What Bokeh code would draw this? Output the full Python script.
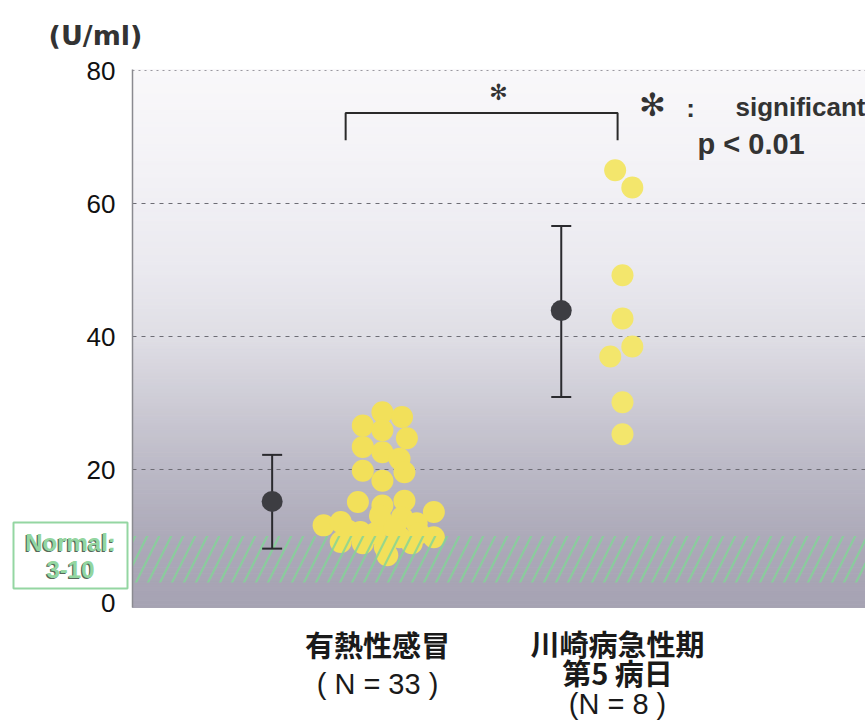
import numpy as np
from bokeh.plotting import figure
from bokeh.models import Range1d, FixedTicker, Label
from bokeh.embed import file_html
from bokeh.resources import INLINE

# ---------------- data ----------------
unit_label = "(U/ml)"
group_lines = [["有熱性感冒", "( N = 33 )"], ["川崎病急性期", "第5 病日", "(N = 8 )"]]
fever_values = [28.6, 27.9, 26.6, 25.9, 24.7, 23.4, 22.6, 21.6, 19.8, 19.6, 18.3,
                15.1, 14.6, 15.3, 13.6, 11.6, 12.1, 10.6, 12.1, 12.8, 11.9, 9.8,
                9.1, 8.9, 8.3, 7.1, 8.9, 9.8, 10.4, 13.1, 10.4, 10.8, 11.1]
fever_jitter = [0.02, 0.10, -0.06, 0.02, 0.12, -0.06, 0.02, 0.09, -0.06, 0.11, 0.02,
                -0.08, 0.02, 0.11, 0.23, -0.22, -0.15, -0.07, 0.02, 0.10, 0.16, 0.23,
                -0.15, -0.06, 0.03, 0.04, 0.14, 0.09, -0.01, 0.01, 0.17, -0.12, 0.07]
kawasaki_values = [65.0, 62.4, 49.2, 42.7, 38.5, 37.0, 30.1, 25.3]
kawasaki_jitter = [-0.03, 0.04, 0.0, 0.0, 0.04, -0.05, 0.0, 0.0]
means = [15.2, 43.9]
upper = [22.2, 56.6]
lower = [8.1, 30.9]
y_ticks = [0, 20, 40, 60, 80]
normal_range = [3, 10]
normal_text = "Normal:\n3-10"
sig_text = "significant"
p_text = "p < 0.01"

# ---------------- layout ----------------
W, H = 865, 724
PX0, PY0 = 132, 602          # canvas px of data (0, 0)
SX, SY = 245.0, 6.65         # px per data unit
PA_X0, PA_X1 = 0.0, (W - PX0) / SX     # plot-area extent (data)
PA_Y0, PA_Y1 = -0.75, 80.15
cat_pos = [1.0, 2.0]
mean_shift = [-0.43, -0.25]

def px_x(px):
    return (px - PX0) / SX

def px_y(py):
    return (PY0 - py) / SY

p = figure(width=W, height=H, output_backend="svg", toolbar_location=None,
           x_range=Range1d(px_x(0), px_x(W)), y_range=Range1d(px_y(H), px_y(0)),
           x_axis_location=None, y_axis_location="left",
           min_border_left=0, min_border_top=0, min_border_right=0, min_border_bottom=0)
p.outline_line_color = None
p.grid.visible = False
p.background_fill_color = "white"
p.border_fill_color = "white"

# gradient background of the plot area
stops_v = [PA_Y0, 10, 20, 30, 40, 50, 65, PA_Y1]
stops_c = ["#a6a3b3", "#adaab9", "#bbb9c6", "#cdcbd5", "#dfdee5", "#eae9ef", "#f3f2f6", "#f9f8fa"]
def hex2rgb(h):
    return np.array([int(h[i:i + 2], 16) for i in (1, 3, 5)], float)
rgbs = np.array([hex2rgb(c) for c in stops_c])
edges = np.linspace(PA_Y0, PA_Y1, 161)
mids = (edges[:-1] + edges[1:]) / 2
cols = []
for m in mids:
    c = [np.interp(m, stops_v, rgbs[:, k]) for k in range(3)]
    cols.append("#%02x%02x%02x" % tuple(int(round(v)) for v in c))
p.quad(left=PA_X0, right=PA_X1, bottom=edges[:-1], top=edges[1:], fill_color=cols,
       line_color=cols, line_width=1)

# grid lines
mid_ticks = [t for t in y_ticks if 0 < t < max(y_ticks)]
p.segment(x0=PA_X0, x1=PA_X1, y0=mid_ticks, y1=mid_ticks, line_color="#6d6c74",
          line_width=1.2, line_dash="4 5")
p.segment(x0=PA_X0, x1=PA_X1, y0=[max(y_ticks)], y1=[max(y_ticks)], line_color="#9a99a0",
          line_width=1.2, line_dash="2 4")

# yellow dots
p.scatter([cat_pos[0] + j for j in fever_jitter], fever_values, size=22,
          fill_color="#f2e05a", line_color=None)
p.scatter([cat_pos[1] + j for j in kawasaki_jitter], kawasaki_values, size=22,
          fill_color="#f3e66c", line_color=None)

# normal range hatch (drawn over dots)
p.quad(left=PA_X0, right=PA_X1, bottom=normal_range[0], top=normal_range[1], fill_alpha=0,
       line_color=None, hatch_pattern="/", hatch_color="#82d496", hatch_scale=24,
       hatch_weight=2.2, hatch_alpha=0.8)

# mean +/- SD
mx = [c + s for c, s in zip(cat_pos, mean_shift)]
p.segment(x0=mx, y0=lower, x1=mx, y1=upper, line_color="#2a2a2e", line_width=2)
p.scatter(mx + mx, upper + lower, marker="dash", size=20, line_color="#2a2a2e", line_width=2)
p.scatter(mx, means, size=21, fill_color="#3d3d42", line_color=None)

# significance bracket
bl, br = cat_pos[0] - 0.13, cat_pos[1] - 0.02
bb, bt = 69.5, 73.6
p.line([bl, bl, br, br], [bb, bt, bt, bb], line_color="#2a2a2a", line_width=2)
p.add_layout(Label(x=px_x(498), y=px_y(92), text="✻", text_align="center", text_baseline="middle",
                   text_font="DejaVu Sans", text_font_size="22px", text_color="#333333"))

# legend text
p.add_layout(Label(x=px_x(652), y=px_y(104), text="✻", text_align="center", text_baseline="middle",
                   text_font="DejaVu Sans", text_font_size="32px", text_color="#333333"))
p.add_layout(Label(x=px_x(690), y=px_y(107), text=":", text_align="center", text_baseline="middle",
                   text_font="Liberation Sans", text_font_size="26px", text_font_style="bold",
                   text_color="#333333"))
p.add_layout(Label(x=px_x(735), y=px_y(106), text=sig_text, text_align="left", text_baseline="middle",
                   text_font="Liberation Sans", text_font_size="26px", text_font_style="bold",
                   text_color="#333333"))
p.add_layout(Label(x=px_x(697), y=px_y(143), text=p_text, text_align="left", text_baseline="middle",
                   text_font="Liberation Sans", text_font_size="29px", text_font_style="bold",
                   text_color="#333333"))

# unit label
p.add_layout(Label(x=px_x(95), y=px_y(35), text=unit_label, text_align="center", text_baseline="middle",
                   text_font="DejaVu Sans", text_font_size="27px", text_font_style="bold",
                   text_color="#333333"))

# normal box
p.quad(left=px_x(13), right=px_x(127), bottom=px_y(588), top=px_y(522),
       fill_color="white", line_color="#94d6a2", line_width=2)
nx, ny = px_x(70), px_y(555)
p.add_layout(Label(x=nx, y=ny, x_offset=-1.2, y_offset=-1.5, text=normal_text, text_align="center",
                   text_baseline="middle", text_font="Liberation Sans", text_font_size="24px",
                   text_font_style="bold", text_line_height=1.0, text_color="#55685a"))
p.add_layout(Label(x=nx, y=ny, text=normal_text, text_align="center", text_baseline="middle",
                   text_font="Liberation Sans", text_font_size="24px", text_font_style="bold",
                   text_line_height=1.0, text_color="#93d6a0"))

# category labels
line_y = [[643, 683], [642, 671, 703]]
label_cx = [377, 617]
for g, lines in enumerate(group_lines):
    for k, t in enumerate(lines):
        cjk = any(ord(ch) > 0x3000 for ch in t)
        p.add_layout(Label(x=px_x(label_cx[g]), y=px_y(line_y[g][k]), text=t, text_align="center",
                           text_baseline="middle",
                           text_font="Noto Sans CJK JP" if cjk else "Liberation Sans",
                           text_font_size="29px" if cjk else "29px",
                           text_font_style="bold" if cjk else "normal",
                           text_color="#1a1a1a"))

# y axis, drawn at the left edge of the plot area
ax = p.yaxis[0]
ax.fixed_location = PA_X0
ax.bounds = (PA_Y0, PA_Y1)
ax.ticker = FixedTicker(ticks=y_ticks)
ax.axis_line_color = "#8a8a90"
ax.axis_line_width = 1.5
ax.major_tick_line_color = None
ax.minor_tick_line_color = None
ax.major_label_standoff = 11
ax.major_label_text_font = "Liberation Sans"
ax.major_label_text_font_size = "26px"
ax.major_label_text_color = "#111111"

open("out.html", "w").write(file_html(p, INLINE))
